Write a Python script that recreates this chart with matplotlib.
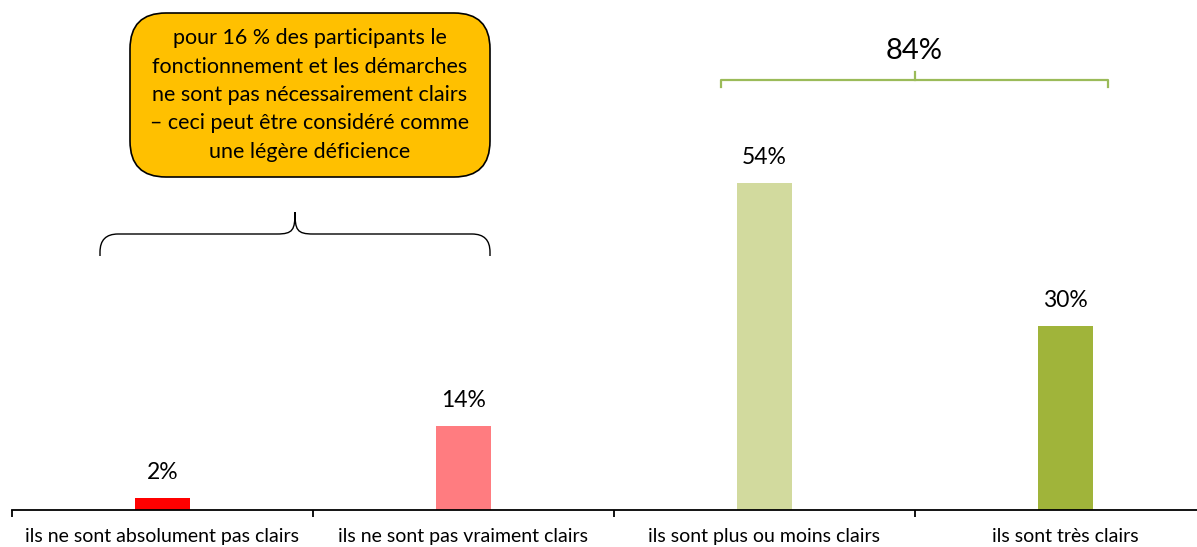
import matplotlib
matplotlib.use("Agg")
import matplotlib.pyplot as plt
from matplotlib.path import Path
from matplotlib.patches import PathPatch, FancyBboxPatch
import numpy as np

categories = ["ils ne sont absolument pas clairs", "ils ne sont pas vraiment clairs",
              "ils sont plus ou moins clairs", "ils sont très clairs"]
values = [2, 13.9, 54, 30.4]
labels = ["2%", "14%", "54%", "30%"]
colors = ["#FF0000", "#FF7C80", "#D2DA9E", "#A0B43A"]
callout_text = ("pour 16 % des participants le\nfonctionnement et les démarches\n"
                "ne sont pas nécessairement clairs\n– ceci peut être considéré comme\n"
                "une légère déficience")
total_label = "84%"

plt.rcParams['font.family'] = ['Lato', 'DejaVu Sans']

W, H = 1197, 547
fig = plt.figure(figsize=(W / 100, H / 100), dpi=100)

def fx(x): return x / W
def fy(y): return 1 - y / H

# axes: left at 12px, bottom at 510px, top at 0
ax = fig.add_axes([fx(12), fy(510), fx(1197) - fx(12), fy(0) - fy(510)])
x = np.arange(len(categories))
ax.bar(x, values, width=0.183, color=colors, zorder=2)
ax.set_xlim(-0.5, 3.437)
ax.set_ylim(0, 84.3)
for xi, v, lab in zip(x, values, labels):
    ax.annotate(lab, (xi, v), xytext=(0, 18.5), textcoords="offset points",
                ha="center", va="center", fontsize=16.5)

for s in ["top", "right", "left"]:
    ax.spines[s].set_visible(False)
ax.spines["bottom"].set_linewidth(1.3)
ax.set_yticks([])
ax.set_xticks(x)
ax.set_xticklabels(categories, fontsize=14)
ax.tick_params(axis="x", which="major", length=0, pad=13)
ax.set_xticks([-0.5, 0.5, 1.5, 2.5], minor=True)
ax.tick_params(axis="x", which="minor", length=5, width=1.3, direction="out")

# callout box
x0, y0, x1, y1 = 130, 13, 490, 177
box = FancyBboxPatch((fx(x0), fy(y1)), fx(x1) - fx(x0), fy(y0) - fy(y1),
                     boxstyle="round,pad=0,rounding_size=0.03",
                     transform=fig.transFigure, facecolor="#FFC000",
                     edgecolor="black", linewidth=1.2, mutation_aspect=W / H)
fig.add_artist(box)
fig.text(fx((x0 + x1) / 2), fy(95), callout_text, ha="center", va="center",
         fontsize=15.5, linespacing=1.52)

# left curly brace (pixel coords)
def curly(xl, xr, yb, ym, yt, r):
    xc = (xl + xr) / 2
    verts = [(xl, yb), (xl, ym + r), (xl, ym), (xl + r, ym), (xc - r, ym),
             (xc - 2, ym), (xc, ym - 4), (xc, yt),
             (xc, ym - 4), (xc + 2, ym), (xc + r, ym),
             (xr - r, ym), (xr, ym), (xr, ym + r), (xr, yb)]
    codes = [Path.MOVETO, Path.LINETO, Path.CURVE3, Path.CURVE3, Path.LINETO,
             Path.CURVE4, Path.CURVE4, Path.CURVE4,
             Path.CURVE4, Path.CURVE4, Path.CURVE4,
             Path.LINETO, Path.CURVE3, Path.CURVE3, Path.LINETO]
    verts = [(fx(a), fy(b)) for a, b in verts]
    fig.add_artist(PathPatch(Path(verts, codes), transform=fig.transFigure, fill=False,
                             edgecolor="black", linewidth=1.0))

curly(100, 490, 256, 234, 212, 18)

# green bracket
g = "#9BBB59"
gx0, gx1, gy = 721, 1108, 80
fig.add_artist(plt.Line2D([fx(gx0), fx(gx0), fx(gx1), fx(gx1)],
                          [fy(87), fy(gy), fy(gy), fy(87)], color=g, lw=1.6,
                          transform=fig.transFigure))
fig.add_artist(plt.Line2D([fx((gx0 + gx1) / 2)] * 2, [fy(gy), fy(72)], color=g, lw=1.6,
                          transform=fig.transFigure))
fig.text(fx((gx0 + gx1) / 2), fy(51), total_label, ha="center", va="center", fontsize=21)

fig.savefig("out.png", dpi=100)
